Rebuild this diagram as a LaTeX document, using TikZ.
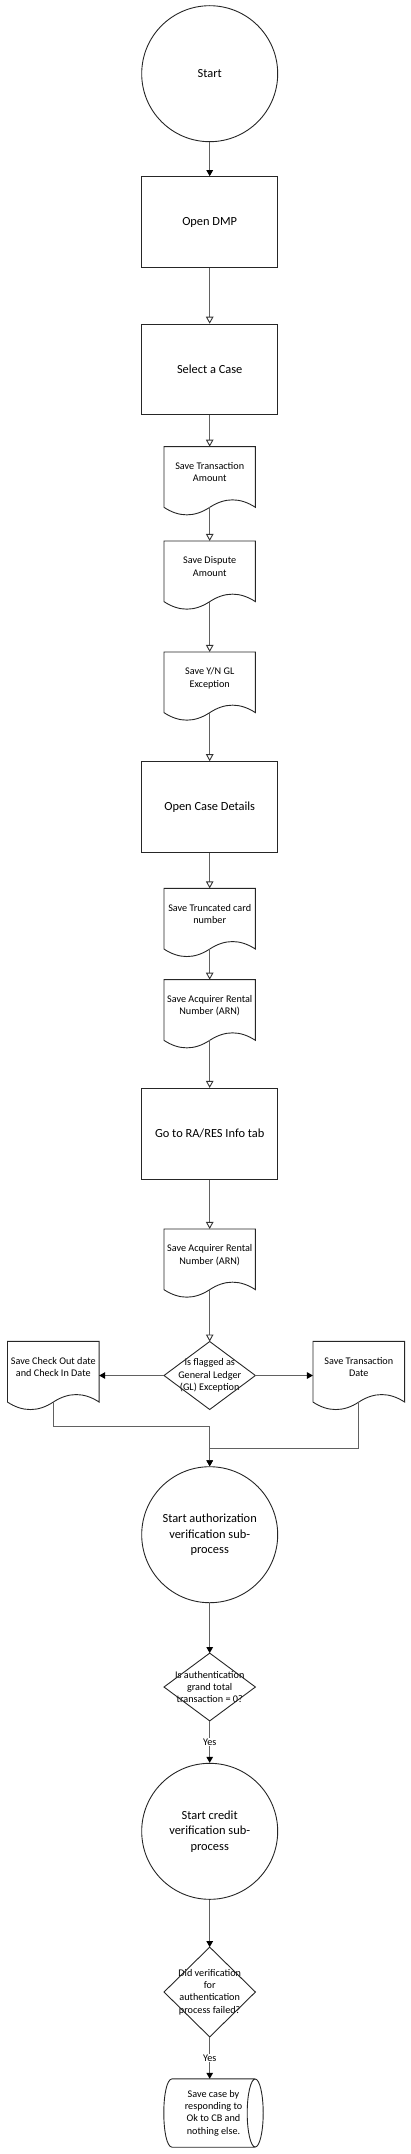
\documentclass[tikz,border=0pt]{standalone}
\usepackage{fontspec}
\setmainfont{Carlito}
\usetikzlibrary{arrows.meta,calc}
\newcommand\doctext[1]{\raisebox{3.7pt}[\height][\depth]{\begin{tabular}{@{}c@{}}#1\end{tabular}}}
\newcommand\docshape[1]{%
  \draw[outline] (#1.north west) -- (#1.north east) -- (#1.south east)
    .. controls ($(#1.south east)+(-15.2pt,10pt)$) and ($(#1.south)+(15.2pt,10pt)$) .. (#1.south)
    .. controls ($(#1.south)+(-15.2pt,-10pt)$) and ($(#1.south west)+(15.2pt,-10pt)$) .. (#1.south west) -- cycle;}
\newcommand\diashape[1]{%
  \draw[outline] (#1.north) -- (#1.east) -- (#1.south) -- (#1.west) -- cycle;}
\begin{document}
\begin{tikzpicture}[x=1pt,y=-1pt,
  outline/.style={draw=black!85, line width=0.9pt},
  big/.style={font=\fontsize{12.4}{15.4}\selectfont},
  small/.style={font=\fontsize{10.2}{12.4}\selectfont},
  startc/.style={circle, outline, minimum size=136pt, inner sep=0pt, align=center, big},
  procbox/.style={rectangle, outline, minimum width=136pt, minimum height=90.7pt, inner sep=0pt, align=center, big},
  docbox/.style={rectangle, draw=none, minimum width=91pt, minimum height=60.3pt, inner sep=0pt, small},
  decbox/.style={rectangle, draw=none, minimum width=91pt, inner sep=0pt, align=center, small},
  conn/.style={draw=black!62, line width=1.1pt},
  opena/.style={conn, -{Triangle[width=7.5pt, length=7pt, fill=white, color=black!80, line width=0.9pt]}},
  fulla/.style={conn, -{Triangle[width=6.5pt, length=6pt, color=black]}},
  yeslbl/.style={fill=white, inner sep=1pt, small},
]
\useasboundingbox (0,0) rectangle (411,2154);

% nodes
\node[startc] (start) at (209.7,73.7) {Start};
\node[procbox] (odmp) at (209.7,222) {Open DMP};
\node[procbox] (sel) at (209.7,369.5) {Select a Case};
\node[docbox] (dta) at (209.7,477) {\doctext{Save Transaction\\Amount}};
\node[docbox] (dda) at (209.7,571.3) {\doctext{Save Dispute\\Amount}};
\node[docbox] (dyn) at (209.7,682.3) {\doctext{Save Y/N GL\\Exception}};
\node[procbox] (ocd) at (209.7,807) {Open Case Details};
\node[docbox] (dtr) at (209.7,918.7) {\doctext{Save Truncated card\\number}};
\node[docbox] (darn) at (209.7,1010) {\doctext{Save Acquirer Rental\\Number (ARN)}};
\node[procbox] (goto) at (209.7,1133.7) {Go to RA/RES Info tab};
\node[docbox] (darnb) at (209.7,1259.3) {\doctext{Save Acquirer Rental\\Number (ARN)}};
\node[decbox, minimum height=67.6pt] (d1) at (209.7,1375.5) {Is flagged as\\General Ledger\\(GL) Exception};
\node[docbox, minimum width=91.3pt] (dl) at (53.3,1371.7) {\doctext{Save Check Out date\\and Check In Date}};
\node[docbox, minimum width=91.3pt] (dr) at (358.8,1371.7) {\doctext{Save Transaction\\Date}};
\node[startc] (c2) at (209.7,1534.7) {Start authorization\\verification sub-\\process};
\node[decbox, minimum height=67.4pt] (d2) at (209.7,1687) {Is authentication\\grand total\\transaction = 0?};
\node[startc] (c3) at (209.7,1831.3) {Start credit\\verification sub-\\process};
\node[decbox, minimum height=89.4pt] (d3) at (209.7,1992) {Did verification\\for\\authentication\\process failed?};
\node[rectangle, draw=none, minimum width=99pt, minimum height=68pt, inner sep=0pt, align=center, small] (fin) at (213.5,2113) {Save case by\\responding to\\Ok to CB and\\nothing else.};

% shapes
\foreach \n in {dta,dda,dyn,dtr,darn,darnb,dl,dr} {\docshape{\n}}
\foreach \n in {d1,d2,d3} {\diashape{\n}}
\draw[outline] ($(fin.north west)+(8.4pt,0)$) -- ($(fin.north east)+(-8pt,0)$)
  ($(fin.south west)+(8.4pt,0)$) -- ($(fin.south east)+(-8pt,0)$)
  ($(fin.north west)+(8.4pt,0)$) .. controls +(-11.2pt,0) and +(-11.2pt,0) .. ($(fin.south west)+(8.4pt,0)$)
  ($(fin.east)+(-8pt,0)$) ellipse [x radius=8pt, y radius=34pt];

% connectors
\draw[fulla] (start) -- (odmp);
\draw[opena] (odmp) -- (sel);
\draw[opena] (sel) -- (dta);
\draw[opena] (dta.south) -- (dda.north);
\draw[opena] (dda.south) -- (dyn.north);
\draw[opena] (dyn.south) -- (ocd.north);
\draw[opena] (ocd) -- (dtr.north);
\draw[opena] (dtr.south) -- (darn.north);
\draw[opena] (darn.south) -- (goto.north);
\draw[opena] (goto) -- (darnb.north);
\draw[opena] (darnb.south) -- (d1.north);
\draw[fulla] (d1.west) -- (d1.west -| dl.east);
\draw[fulla] (d1.east) -- (d1.east -| dr.west);
\draw[fulla] (dl.south) |- ($(c2.north)+(0,40pt)$) -- (c2.north);
\draw[fulla] (dr.south) |- ($(c2.north)+(0,17.4pt)$) -- (c2.north);
\draw[fulla] (c2) -- (d2.north);
\draw[fulla] (d2.south) -- node[yeslbl] {Yes} (c3.north);
\draw[fulla] (c3) -- (d3.north);
\draw[fulla] (d3.south) -- node[yeslbl] {Yes} (d3.south |- fin.north);
\end{tikzpicture}
\end{document}
